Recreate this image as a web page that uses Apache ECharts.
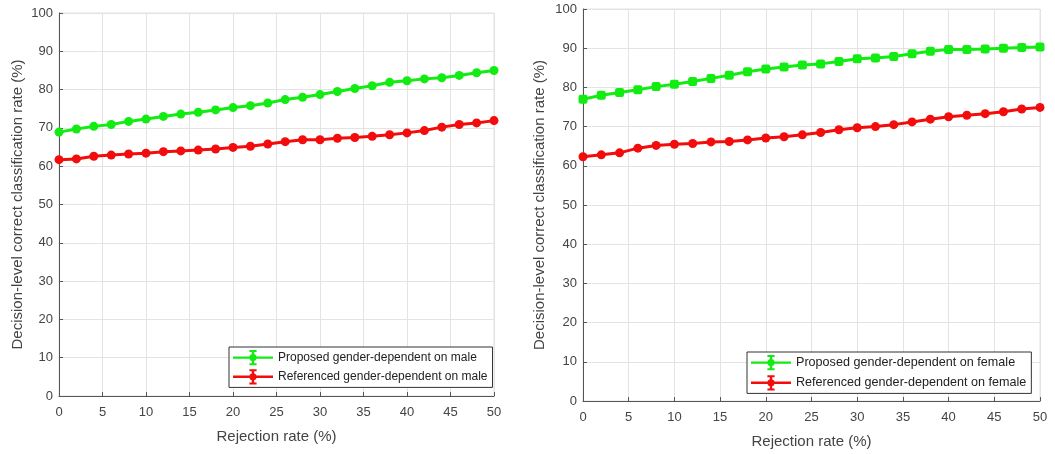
<!DOCTYPE html>
<html><head><meta charset="utf-8">
<script src="https://cdn.jsdelivr.net/npm/echarts@6/dist/echarts.min.js"></script>
<style>html,body{margin:0;padding:0;background:#fff;}#c{width:1055px;height:454px;}</style>
</head><body><div id="c"></div>
<script>
const rejection = [0,2,4,6,8,10,12,14,16,18,20,22,24,26,28,30,32,34,36,38,40,42,44,46,48,50];
const proposedMale = [68.9,69.7,70.4,70.9,71.7,72.3,73.0,73.6,74.1,74.7,75.3,75.8,76.5,77.4,78.0,78.7,79.5,80.3,81.0,81.9,82.3,82.8,83.1,83.7,84.4,85.0];
const referencedMale = [61.7,61.9,62.6,62.9,63.2,63.4,63.8,64.0,64.2,64.5,64.9,65.2,65.8,66.4,66.9,66.9,67.3,67.5,67.8,68.2,68.7,69.3,70.2,70.9,71.3,71.9];
const proposedFemale = [77.0,78.0,78.7,79.4,80.2,80.8,81.5,82.3,83.1,84.0,84.7,85.2,85.7,86.0,86.6,87.3,87.5,87.9,88.6,89.2,89.7,89.7,89.8,90.0,90.2,90.3];
const referencedFemale = [62.3,62.8,63.3,64.5,65.2,65.5,65.7,66.1,66.2,66.6,67.1,67.4,67.9,68.5,69.2,69.7,70.0,70.5,71.2,71.9,72.5,72.9,73.3,73.8,74.5,74.9];
const xTicks = [0,5,10,15,20,25,30,35,40,45,50];
const yTicks = [0,10,20,30,40,50,60,70,80,90,100];
const names = ['Proposed gender-dependent on male','Referenced gender-dependent on male','Proposed gender-dependent on female','Referenced gender-dependent on female'];

const FONT = '"Liberation Sans", Arial, sans-serif';
const TXT = '#444';
const GREEN = '#12ec12';
const RED = '#f20c0c';
const icon = 'path://M0,8 L50,8 L50,11 L0,11 Z M23.5,1 L26.5,1 L26.5,18 L23.5,18 Z M20.5,0 L29.5,0 L29.5,2.5 L20.5,2.5 Z M20.5,16.5 L29.5,16.5 L29.5,19 L20.5,19 Z M25,5 A4.5,4.5 0 1 1 24.99,5 Z';

function pair(a){return rejection.map((x,i)=>[x,a[i]]);}

function xAxis(gi){return {type:'value',gridIndex:gi,min:xTicks[0],max:xTicks[xTicks.length-1],interval:5,
  name:'Rejection rate (%)',nameLocation:'middle',nameGap:33,
  nameTextStyle:{fontFamily:FONT,fontSize:15,color:TXT},
  axisLine:{show:true,lineStyle:{color:'#555',width:1}},
  axisTick:{show:true,inside:true,length:4,lineStyle:{color:'#555'}},
  axisLabel:{fontFamily:FONT,fontSize:13,color:TXT,margin:10},
  splitLine:{show:true,lineStyle:{color:'#e3e3e3',width:1}}};}
function yAxis(gi){return {type:'value',gridIndex:gi,min:yTicks[0],max:yTicks[yTicks.length-1],interval:10,
  name:'Decision-level correct classification rate (%)',nameLocation:'middle',nameGap:gi===0?34:36,
  nameTextStyle:{fontFamily:FONT,fontSize:15,color:TXT},
  axisLine:{show:true,lineStyle:{color:'#555',width:1}},
  axisTick:{show:true,inside:true,length:4,lineStyle:{color:'#555'}},
  axisLabel:{fontFamily:FONT,fontSize:13,color:TXT,margin:6},
  splitLine:{show:true,lineStyle:{color:'#e3e3e3',width:1}}};}
function series(name,data,color,gi,sym){return {name:name,type:'line',xAxisIndex:gi,yAxisIndex:gi,
  data:data,symbol:sym||'circle',symbolSize:9,showSymbol:true,
  lineStyle:{color:color,width:3},itemStyle:{color:color},animation:false};}
function legend(names,left,top,fs,gap){return {data:names.map(n=>({name:n,icon:icon})),
  orient:'vertical',left:left,top:top,itemWidth:40,itemHeight:17,itemGap:gap,padding:[3,5,3,4],
  backgroundColor:'#fff',borderColor:'#333',borderWidth:1,
  textStyle:{fontFamily:FONT,fontSize:fs,color:'#222'},selectedMode:false};}

const chart = echarts.init(document.getElementById('c'),null,{renderer:'canvas'});
chart.setOption({
  animation:false,
  grid:[{left:59,top:13,width:435,height:383,show:true,borderColor:'#e3e3e3',borderWidth:1,backgroundColor:'transparent'},
        {left:583,top:9,width:457,height:393,show:true,borderColor:'#e3e3e3',borderWidth:1,backgroundColor:'transparent'}],
  xAxis:[xAxis(0),xAxis(1)],
  yAxis:[yAxis(0),yAxis(1)],
  legend:[legend([names[0],names[1]],229,347,12,4),legend([names[2],names[3]],747,352,12.6,5)],
  series:[series(names[0],pair(proposedMale),GREEN,0),
          series(names[1],pair(referencedMale),RED,0),
          series(names[2],pair(proposedFemale),GREEN,1,'roundRect'),
          series(names[3],pair(referencedFemale),RED,1)]
});
</script></body></html>
